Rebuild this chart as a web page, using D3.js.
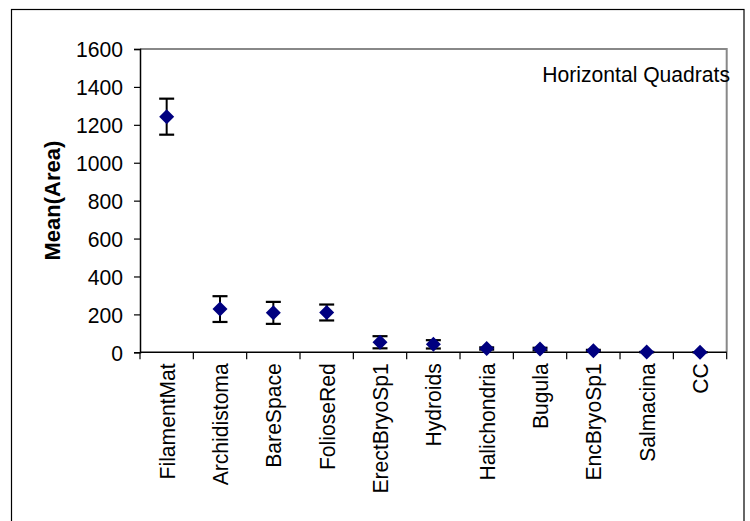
<!DOCTYPE html>
<html><head><meta charset="utf-8">
<script src="https://cdn.jsdelivr.net/npm/d3@7"></script>
<style>body{margin:0;background:#fff}svg{display:block}text{font-family:"Liberation Sans",Arial,sans-serif}</style>
</head><body><svg id="c" width="750" height="521"></svg>
<script>
const categories = ["FilamentMat","Archidistoma","BareSpace","FolioseRed","ErectBryoSp1","Hydroids","Halichondria","Bugula","EncBryoSp1","Salmacina","CC"];
const means = [1243, 228, 208, 210, 53, 42, 20, 17, 8, 1, 0];
const errors = [95, 68, 58, 42, 32, 22, 6, 7, 5, 1, 1];
const yTicks = [0, 200, 400, 600, 800, 1000, 1200, 1400, 1600];
const yTitle = "Mean(Area)";
const annotation = "Horizontal Quadrats";

const svg = d3.select("#c");
const L = 140, R = 726.7, T = 49, B = 352.3;
const fs = "22px", sx = 0.96;

svg.append("rect").attr("x", 11.5).attr("y", 9.5).attr("width", 732.5).attr("height", 530)
  .attr("fill", "none").attr("stroke", "#000").attr("stroke-width", 1.2);

const x = d3.scaleBand().domain(categories).range([L, R]).padding(0);
const y = d3.scaleLinear().domain([0, 1600]).range([B, T]);

// plot border top/right gray
svg.append("path").attr("d", `M${L},${T}H${R}V${B}`).attr("fill", "none").attr("stroke", "#888").attr("stroke-width", 2);

// y axis
const ya = svg.append("g").attr("transform", `translate(${L},0)`)
  .call(d3.axisLeft(y).tickValues(yTicks).tickSize(6).tickFormat(d3.format("d")));
ya.select(".domain").attr("stroke", "#000").attr("stroke-width", 1.5);
ya.selectAll(".tick line").attr("stroke", "#000").attr("stroke-width", 1.2);
ya.selectAll(".tick text").attr("x", null).attr("dy", "0.36em")
  .attr("transform", `translate(-17,0) scale(${sx},1)`)
  .style("font-size", fs).attr("fill", "#000");

// x axis with ticks at boundaries
const xa = svg.append("g").attr("transform", `translate(0,${B})`);
xa.append("line").attr("x1", L).attr("x2", R).attr("stroke", "#000").attr("stroke-width", 1.5);
const bounds = categories.map(c => x(c)).concat([R]);
xa.selectAll("line.tk").data(bounds).join("line").attr("class", "tk")
  .attr("x1", d => d).attr("x2", d => d).attr("y1", 0).attr("y2", 7)
  .attr("stroke", "#000").attr("stroke-width", 1.2);
xa.selectAll("text").data(categories).join("text")
  .attr("transform", d => `translate(${x(d) + x.bandwidth()/2 + 8},11) rotate(-90) scale(${sx},1)`)
  .attr("text-anchor", "end").style("font-size", fs).attr("fill", "#000").text(d => d);

// error bars
const data = categories.map((c, i) => ({c, m: means[i], e: errors[i]}));
const eb = svg.append("g");
data.forEach(d => {
  const cx = x(d.c) + x.bandwidth()/2;
  const y1 = y(d.m + d.e), y0 = y(Math.max(0, d.m - d.e));
  eb.append("line").attr("x1", cx).attr("x2", cx).attr("y1", y1).attr("y2", y0).attr("stroke", "#000").attr("stroke-width", 2);
  [y1, y0].forEach(yy => eb.append("line").attr("x1", cx - 7.5).attr("x2", cx + 7.5).attr("y1", yy).attr("y2", yy).attr("stroke", "#000").attr("stroke-width", 2.2));
});

// diamonds
svg.append("g").selectAll("path").data(data).join("path")
  .attr("transform", d => `translate(${x(d.c) + x.bandwidth()/2},${y(d.m)})`)
  .attr("d", "M0,-7.5L7.5,0L0,7.5L-7.5,0Z").attr("fill", "#000080");

// y title
svg.append("text").attr("transform", `translate(60,${(T + B)/2}) rotate(-90)`)
  .attr("text-anchor", "middle").style("font-size", fs).style("font-weight", "bold").text(yTitle);

// annotation
svg.append("text").attr("transform", `translate(730,82) scale(${sx},1)`).attr("text-anchor", "end")
  .style("font-size", fs).text(annotation);
</script></body></html>
